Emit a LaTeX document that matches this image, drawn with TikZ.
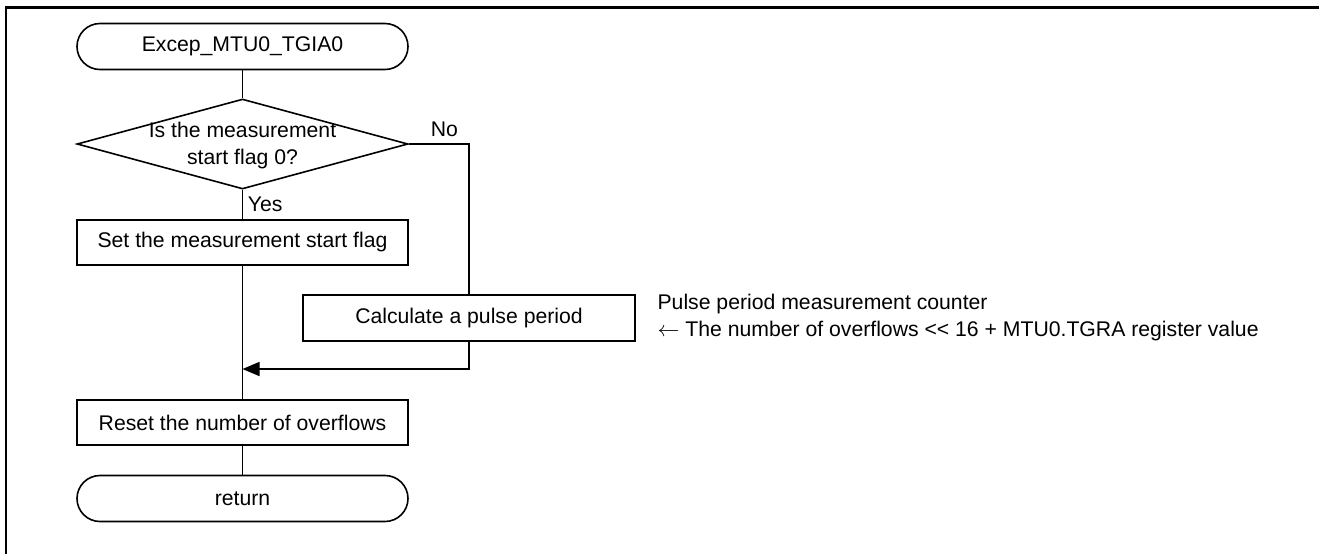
\documentclass[tikz,border=0pt]{standalone}
\usepackage{fontspec}
\setmainfont{Liberation Sans}
\usetikzlibrary{shapes.geometric,arrows.meta,positioning}
\tikzstyle{terminal}=[draw, rectangle, rounded corners=11.5pt, minimum width=165.5pt, minimum height=23pt, inner sep=0pt]
\tikzstyle{process}=[draw, rectangle, minimum width=165.5pt, minimum height=22.5pt, inner sep=0pt]
\tikzstyle{decision}=[draw, diamond, minimum width=165.5pt, minimum height=45pt, inner sep=0pt]
\tikzstyle{branchtext}=[inner sep=0pt, anchor=base west]
\tikzstyle{merge}=[-{Triangle[length=8.5pt,width=7pt]}]
\begin{document}
\begin{tikzpicture}[x=0.5pt,y=-0.5pt,font=\fontsize{10.6}{13.5}\selectfont,line width=0.8pt]
\useasboundingbox (0,0) rectangle (1319,554);
% frame (top and left only)
\draw[line width=1.25pt] (6,554) -- (6,7.5) -- (1319,7.5);

\pgfmathsetmacro{\mainx}{242.5}
\node[terminal] (start) at (\mainx,46.5) {Excep\_MTU0\_TGIA0};
\node[decision] (dec) at (\mainx,144) {};
\node[align=center, inner sep=0pt] (dectext) at (\mainx,146) {Is the measurement\\start flag 0?};
\node[process] (setflag) at (\mainx,242.5) {Set the measurement start flag};
\node[process, minimum width=166pt, minimum height=23pt] (calc) at (469,318) {Calculate a pulse period};
\node[align=left, inner sep=0pt, right=10.5pt of calc] (note) {Pulse period measurement counter\\$\leftarrow$ The number of overflows {<}{<} 16 + MTU0.TGRA register value};
\coordinate (join) at (\mainx,369);
\node[process] (reset) at (\mainx,422.5) {Reset the number of overflows};
\node[terminal] (ret) at (\mainx,498.5) {return};

\node[branchtext] (yes) at (247,211) {Yes};
\node[branchtext] (no) at (430,136) {No};

\draw (start) -- (dec);
\draw (dec) -- (setflag);
\draw (setflag) -- (reset);
\draw (reset) -- (ret);
\draw (dec.east) -| (calc.north);
\draw[merge] (calc.south) |- (join);
\end{tikzpicture}
\end{document}
